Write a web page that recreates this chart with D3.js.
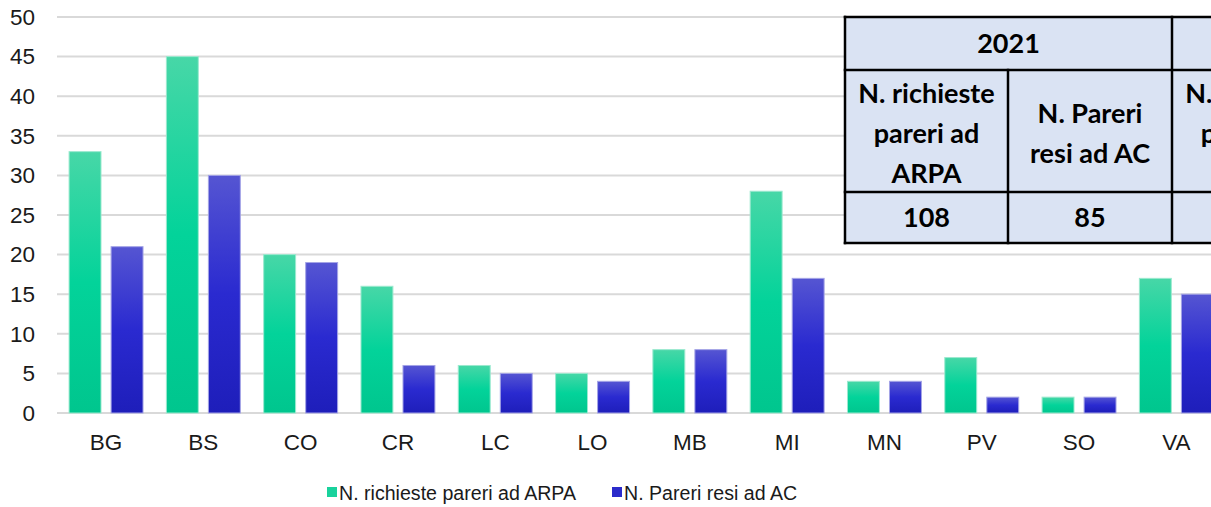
<!DOCTYPE html>
<html>
<head>
<meta charset="utf-8">
<script src="https://cdn.jsdelivr.net/npm/d3@7"></script>
<style>
  body { margin: 0; background: #fff; }
  svg { display: block; }
</style>
</head>
<body>
<svg id="svg" width="1211" height="507"></svg>
<script>
// province e valori
const provinces = ["BG", "BS", "CO", "CR", "LC", "LO", "MB", "MI", "MN", "PV", "SO", "VA"];
const richieste = [33, 45, 20, 16, 6, 5, 8, 28, 4, 7, 2, 17];
const pareri = [21, 30, 19, 6, 5, 4, 8, 17, 4, 2, 2, 15];
const seriesNames = ["N. richieste pareri ad ARPA", "N. Pareri resi ad AC"];
const yTicks = [0, 5, 10, 15, 20, 25, 30, 35, 40, 45, 50];

// tabella riassuntiva (sovrapposta in alto a destra, tagliata dal bordo)
const tableYear = "2021";
const tableHeaders = ["N. richieste\npareri ad\nARPA", "N. Pareri\nresi ad AC", "N. richieste\npareri ad\nARPA"];
const tableValues = ["108", "85", ""];

const svg = d3.select("#svg");
const fontAxis = "'Liberation Sans', Arial, sans-serif";

const x0 = d3.scaleBand().domain(provinces).range([57.4, 1225]).paddingInner(0.24).paddingOuter(0.12);
const x1 = d3.scaleBand().domain([0, 1]).range([0, x0.bandwidth()]).paddingInner(0.24);
const y = d3.scaleLinear().domain([0, 50]).range([413, 17]);

const defs = svg.append("defs");
function grad(id, top, mid, bottom) {
    const g = defs.append("linearGradient").attr("id", id)
        .attr("x1", 0).attr("y1", 0).attr("x2", 0).attr("y2", 1);
    g.append("stop").attr("offset", "0%").attr("stop-color", top);
    g.append("stop").attr("offset", "50%").attr("stop-color", mid);
    g.append("stop").attr("offset", "100%").attr("stop-color", bottom);
}
grad("gGreen", "#47d7a7", "#03d39a", "#00c68e");
grad("gBlue", "#5555d2", "#2a2ad0", "#1e1eba");
const fills = ["url(#gGreen)", "url(#gBlue)"];
const strokes = ["#9be9cf", "#a4a4e6"];

// griglia
svg.append("g")
    .selectAll("line")
    .data(yTicks)
    .join("line")
    .attr("x1", 57)
    .attr("x2", 1211)
    .attr("y1", d => y(d))
    .attr("y2", d => y(d))
    .attr("stroke", "#d9d9d9")
    .attr("stroke-width", 2);

// asse y
const yAxis = svg.append("g")
    .attr("transform", "translate(35,0)")
    .call(d3.axisLeft(y).tickValues(yTicks).tickSize(0).tickPadding(0));
yAxis.select(".domain").remove();
yAxis.selectAll("text")
    .attr("font-family", fontAxis)
    .attr("font-size", 22.5)
    .attr("fill", "#1a1a1a");

// asse x
const xAxis = svg.append("g")
    .attr("transform", "translate(0,0)")
    .call(d3.axisBottom(x0).tickSize(0));
xAxis.select(".domain").remove();
xAxis.selectAll("text")
    .attr("y", 450)
    .attr("dy", null)
    .attr("font-family", fontAxis)
    .attr("font-size", 22.5)
    .attr("fill", "#1a1a1a");

// barre
const rows = provinces.map((p, i) => ({ p, vals: [richieste[i], pareri[i]] }));
svg.append("g")
    .selectAll("g")
    .data(rows)
    .join("g")
    .attr("transform", d => `translate(${x0(d.p)},0)`)
    .selectAll("rect")
    .data(d => d.vals.map((v, k) => ({ v, k })))
    .join("rect")
    .attr("x", d => x1(d.k))
    .attr("y", d => y(d.v))
    .attr("width", x1.bandwidth())
    .attr("height", d => y(0) - y(d.v))
    .attr("fill", d => fills[d.k])
    .attr("stroke", d => strokes[d.k])
    .attr("stroke-width", 1);

// legenda
const legendItems = [
    { name: seriesNames[0], x: 327, fill: "#19d29c" },
    { name: seriesNames[1], x: 612, fill: "#2b2bcb" }
];
const legend = svg.append("g");
legend.selectAll("rect")
    .data(legendItems)
    .join("rect")
    .attr("x", d => d.x)
    .attr("y", 487)
    .attr("width", 10)
    .attr("height", 10)
    .attr("fill", d => d.fill);
legend.selectAll("text")
    .data(legendItems)
    .join("text")
    .attr("x", d => d.x + 12)
    .attr("y", 500)
    .attr("font-family", fontAxis)
    .attr("font-size", 19.6)
    .attr("fill", "#1a1a1a")
    .text(d => d.name);

// tabella
const tFont = "Lato, 'Open Sans', sans-serif";
const tSize = 27;
const colX = [845, 1008, 1172, 1335];
const rowY = [17, 70, 192, 243];
const tbl = svg.append("g");
tbl.append("rect")
    .attr("x", colX[0]).attr("y", rowY[0])
    .attr("width", 500).attr("height", rowY[3] - rowY[0])
    .attr("fill", "#dae3f3");

tbl.selectAll("line.h")
    .data(rowY)
    .join("line")
    .attr("class", "h")
    .attr("x1", colX[0] - 1.25).attr("x2", 1211)
    .attr("y1", d => d).attr("y2", d => d)
    .attr("stroke", "#000").attr("stroke-width", 2.5);
const vLines = [
    { x: colX[0], y1: rowY[0], y2: rowY[3] },
    { x: colX[1], y1: rowY[1], y2: rowY[3] },
    { x: colX[2], y1: rowY[0], y2: rowY[3] }
];
tbl.selectAll("line.v")
    .data(vLines)
    .join("line")
    .attr("class", "v")
    .attr("x1", d => d.x).attr("x2", d => d.x)
    .attr("y1", d => d.y1 - 1.25).attr("y2", d => d.y2 + 1.25)
    .attr("stroke", "#000").attr("stroke-width", 2.5);

tbl.append("text")
    .attr("x", (colX[0] + colX[2]) / 2)
    .attr("y", (rowY[0] + rowY[1]) / 2 + 9.5)
    .attr("text-anchor", "middle")
    .attr("font-family", tFont).attr("font-weight", "bold")
    .attr("font-size", tSize).attr("fill", "#000")
    .text(tableYear);

tableHeaders.forEach((h, i) => {
    const lines = h.split("\n");
    const cx = (colX[i] + colX[i + 1]) / 2;
    const cy = (rowY[1] + rowY[2]) / 2;
    const lh = 40;
    const t = tbl.append("text")
        .attr("text-anchor", "middle")
        .attr("font-family", tFont).attr("font-weight", "bold")
        .attr("font-size", tSize).attr("fill", "#000");
    lines.forEach((l, j) => {
        t.append("tspan")
            .attr("x", cx)
            .attr("y", cy + (j - (lines.length - 1) / 2) * lh + 11.5)
            .text(l);
    });
});

tbl.selectAll("text.val")
    .data(tableValues)
    .join("text")
    .attr("class", "val")
    .attr("x", (d, i) => (colX[i] + colX[i + 1]) / 2)
    .attr("y", (rowY[2] + rowY[3]) / 2 + 9.5)
    .attr("text-anchor", "middle")
    .attr("font-family", tFont).attr("font-weight", "bold")
    .attr("font-size", tSize).attr("fill", "#000")
    .text(d => d);
</script>
</body>
</html>
